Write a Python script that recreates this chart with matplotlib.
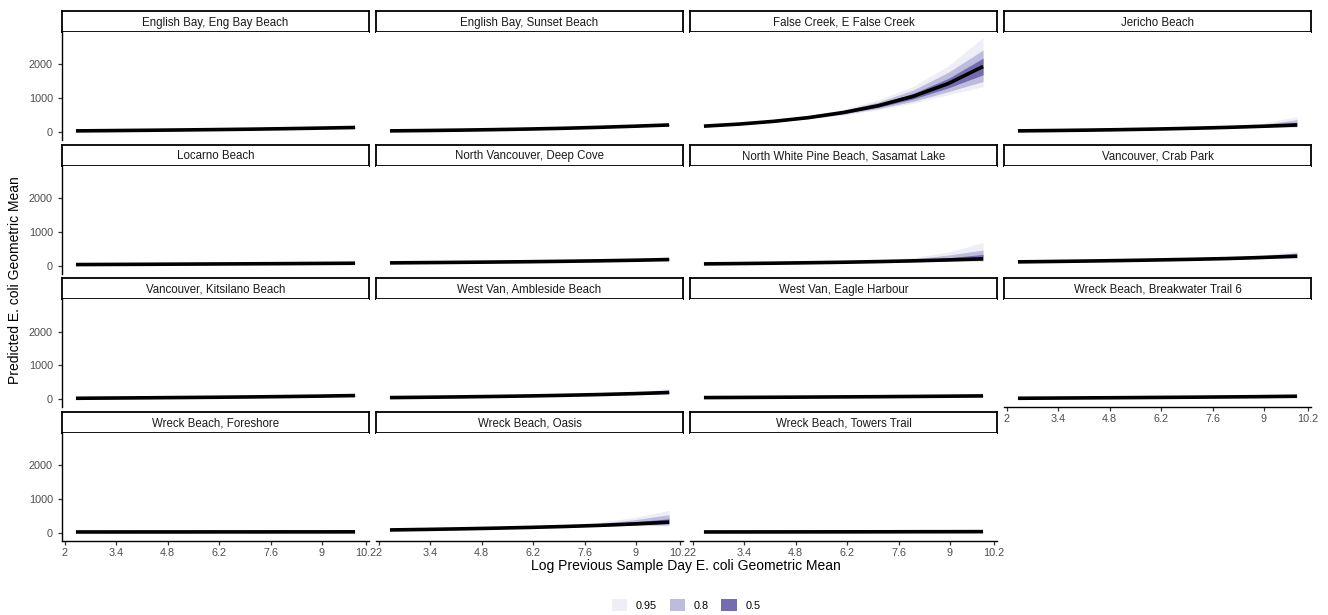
import numpy as np
import matplotlib
matplotlib.use("Agg")
import matplotlib.pyplot as plt
from matplotlib.patches import Patch

plt.rcParams['font.family'] = ['Liberation Sans', 'DejaVu Sans']

sites = ["English Bay, Eng Bay Beach", "English Bay, Sunset Beach", "False Creek, E False Creek",
         "Jericho Beach", "Locarno Beach", "North Vancouver, Deep Cove",
         "North White Pine Beach, Sasamat Lake", "Vancouver, Crab Park", "Vancouver, Kitsilano Beach",
         "West Van, Ambleside Beach", "West Van, Eagle Harbour", "Wreck Beach, Breakwater Trail 6",
         "Wreck Beach, Foreshore", "Wreck Beach, Oasis", "Wreck Beach, Towers Trail"]

# log previous-day geometric mean (x) where the predictions were read
x_prev = [2.3, 3.25, 4.2, 5.15, 6.1, 7.05, 8.0, 8.95, 9.9]

# predicted median, one row per site
median = [
    [30, 38, 47, 57, 68, 80, 95, 112, 130],
    [30, 40, 52, 67, 85, 107, 135, 168, 205],
    [170, 230, 312, 423, 574, 777, 1053, 1428, 1935],
    [30, 40, 52, 67, 85, 107, 133, 166, 205],
    [30, 34, 38, 43, 48, 53, 58, 64, 70],
    [80, 88, 96, 105, 115, 127, 141, 158, 178],
    [50, 60, 71, 84, 99, 118, 140, 167, 200],
    [110, 122, 135, 150, 167, 186, 208, 240, 280],
    [30, 37, 44, 52, 60, 70, 81, 94, 110],
    [50, 60, 71, 84, 99, 118, 140, 167, 200],
    [50, 55, 60, 65, 71, 77, 84, 92, 100],
    [30, 36, 42, 48, 55, 62, 70, 79, 90],
    [30, 30, 31, 31, 32, 32, 33, 33, 34],
    [90, 105, 122, 142, 165, 192, 225, 268, 320],
    [30, 31, 32, 33, 34, 35, 37, 38, 40],
]

hi95 = [
    [32, 40, 50, 61, 74, 88, 106, 128, 152],
    [32, 42, 55, 72, 93, 120, 155, 198, 250],
    [178, 245, 340, 475, 670, 950, 1350, 1950, 2790],
    [32, 43, 57, 76, 100, 132, 178, 255, 450],
    [32, 36, 40, 46, 52, 58, 65, 73, 82],
    [83, 91, 100, 110, 122, 137, 157, 190, 280],
    [53, 64, 77, 93, 117, 160, 240, 400, 680],
    [113, 126, 140, 157, 177, 203, 240, 310, 430],
    [32, 39, 47, 56, 65, 77, 90, 106, 126],
    [53, 63, 75, 89, 106, 128, 156, 200, 330],
    [52, 57, 63, 69, 76, 83, 91, 101, 112],
    [32, 38, 45, 52, 60, 68, 77, 88, 101],
    [32, 32, 33, 33, 34, 35, 36, 37, 38],
    [93, 109, 128, 150, 180, 230, 320, 460, 670],
    [32, 33, 34, 35, 36, 38, 40, 42, 45],
]
hi80 = [
    [31, 39, 49, 60, 72, 85, 102, 122, 144],
    [31, 41, 54, 70, 90, 115, 147, 186, 232],
    [175, 240, 330, 455, 635, 885, 1240, 1760, 2420],
    [31, 42, 55, 72, 94, 122, 160, 220, 360],
    [31, 35, 39, 45, 50, 56, 62, 69, 77],
    [82, 90, 99, 108, 120, 133, 150, 177, 240],
    [52, 63, 75, 90, 110, 143, 200, 310, 460],
    [112, 125, 138, 155, 174, 197, 228, 285, 380],
    [31, 38, 46, 55, 63, 74, 87, 101, 119],
    [52, 62, 74, 87, 103, 124, 150, 188, 280],
    [51, 56, 62, 68, 74, 81, 89, 98, 107],
    [31, 37, 44, 51, 58, 66, 75, 85, 97],
    [31, 31, 32, 33, 33, 34, 35, 35, 36],
    [92, 108, 126, 147, 174, 215, 285, 390, 540],
    [31, 32, 33, 34, 35, 37, 39, 40, 43],
]
hi50 = [
    [31, 39, 48, 58, 70, 83, 98, 117, 137],
    [31, 41, 53, 68, 87, 111, 141, 177, 218],
    [172, 235, 321, 439, 603, 828, 1140, 1580, 2180],
    [31, 41, 54, 70, 90, 115, 146, 190, 280],
    [31, 35, 39, 44, 49, 55, 60, 67, 73],
    [81, 89, 97, 107, 117, 130, 145, 167, 205],
    [51, 61, 73, 87, 104, 128, 165, 230, 330],
    [111, 123, 136, 152, 170, 191, 216, 260, 330],
    [31, 38, 45, 53, 62, 72, 84, 97, 114],
    [51, 61, 72, 86, 101, 121, 145, 177, 240],
    [51, 56, 61, 66, 72, 79, 86, 95, 104],
    [31, 37, 43, 49, 56, 64, 72, 82, 93],
    [31, 31, 32, 32, 33, 33, 34, 34, 35],
    [91, 106, 124, 145, 170, 203, 255, 330, 420],
    [31, 32, 33, 34, 35, 36, 38, 39, 41],
]
lo50 = [
    [29, 37, 46, 56, 66, 77, 92, 107, 123],
    [29, 39, 51, 66, 83, 103, 129, 160, 193],
    [168, 225, 303, 408, 547, 730, 975, 1300, 1690],
    [29, 39, 50, 64, 81, 100, 122, 150, 175],
    [29, 33, 37, 42, 47, 51, 56, 61, 67],
    [79, 87, 95, 103, 113, 124, 137, 151, 165],
    [49, 59, 69, 81, 95, 110, 128, 150, 165],
    [109, 121, 134, 148, 164, 181, 200, 225, 250],
    [29, 36, 43, 51, 58, 68, 78, 91, 106],
    [49, 59, 70, 82, 97, 115, 135, 157, 180],
    [49, 54, 59, 64, 70, 75, 82, 89, 96],
    [29, 35, 41, 47, 54, 60, 68, 76, 87],
    [29, 29, 30, 30, 31, 31, 32, 32, 33],
    [89, 104, 120, 139, 160, 182, 208, 243, 280],
    [29, 30, 31, 32, 33, 34, 36, 37, 39],
]
lo80 = [
    [29, 37, 45, 55, 64, 75, 88, 103, 117],
    [29, 39, 50, 64, 80, 100, 124, 153, 183],
    [165, 221, 295, 393, 522, 690, 905, 1190, 1490],
    [29, 38, 49, 62, 78, 96, 116, 140, 155],
    [29, 33, 37, 41, 46, 50, 54, 59, 64],
    [78, 86, 94, 102, 111, 122, 134, 146, 155],
    [48, 58, 68, 80, 93, 106, 120, 137, 145],
    [108, 120, 132, 146, 161, 177, 195, 215, 225],
    [29, 36, 42, 50, 57, 66, 76, 88, 102],
    [48, 58, 69, 81, 95, 112, 131, 150, 168],
    [49, 54, 58, 63, 68, 73, 80, 86, 93],
    [29, 35, 40, 46, 52, 58, 66, 74, 84],
    [29, 29, 30, 30, 31, 31, 31, 31, 32],
    [88, 103, 119, 137, 157, 177, 200, 228, 240],
    [29, 30, 31, 32, 33, 34, 35, 36, 38],
]
lo95 = [
    [28, 36, 44, 54, 63, 73, 85, 99, 112],
    [28, 38, 49, 63, 78, 97, 120, 147, 175],
    [162, 216, 287, 380, 500, 655, 850, 1100, 1340],
    [28, 37, 48, 61, 76, 93, 112, 133, 140],
    [28, 32, 36, 40, 45, 49, 53, 57, 62],
    [77, 85, 93, 101, 110, 120, 131, 142, 148],
    [47, 57, 67, 78, 91, 103, 115, 128, 130],
    [107, 119, 131, 145, 159, 174, 190, 207, 205],
    [28, 35, 41, 49, 56, 64, 74, 85, 98],
    [47, 57, 68, 80, 94, 110, 128, 145, 160],
    [48, 53, 57, 62, 67, 72, 78, 84, 89],
    [28, 34, 39, 45, 51, 57, 64, 71, 80],
    [28, 28, 29, 29, 30, 30, 30, 30, 31],
    [87, 102, 118, 136, 155, 174, 195, 218, 210],
    [28, 29, 30, 31, 32, 33, 34, 35, 36],
]

levels = ["0.95", "0.8", "0.5"]
fills = ["#efedf5", "#bcbddc", "#756bb1"]
xticks = [2, 3.4, 4.8, 6.2, 7.6, 9, 10.2]
xtick_labels = ["2", "3.4", "4.8", "6.2", "7.6", "9", "10.2"]

W, H = 1328, 615
fig = plt.figure(figsize=(W / 100, H / 100), dpi=100)

def box(px, py, pw, ph):
    return [px / W, 1 - (py + ph) / H, pw / W, ph / H]

x = np.array(x_prev)
ncol = 4
for i, site in enumerate(sites):
    r, c = divmod(i, ncol)
    left = 62 + c * 314
    top = 11 + r * 133.7
    strip = fig.add_axes(box(left, top, 307, 21))
    strip.set_xticks([]); strip.set_yticks([])
    for s in strip.spines.values():
        s.set_linewidth(1.3); s.set_color("black")
    strip.text(0.5, 0.45, site, ha="center", va="center", fontsize=8.3, color="#1a1a1a",
               transform=strip.transAxes)

    ax = fig.add_axes(box(left, top + 21, 307, 108))
    bands = [(lo95[i], hi95[i]), (lo80[i], hi80[i]), (lo50[i], hi50[i])]
    for (lo, hi), col in zip(bands, fills):
        ax.fill_between(x, lo, hi, color=col, lw=0)
    ax.plot(x, median[i], color="black", lw=2.6, solid_capstyle="butt")

    ax.set_xlim(1.92, 10.28)
    ax.set_ylim(-240, 2955)
    ax.spines["top"].set_visible(False)
    ax.spines["right"].set_visible(False)
    bottom_row = (r == 3) or (r == 2 and c == 3)
    ax.spines["bottom"].set_visible(bottom_row)
    ax.spines["left"].set_visible(c == 0)
    for s in ("left", "bottom"):
        ax.spines[s].set_linewidth(1.0)
    ax.tick_params(colors="#333333", labelcolor="#4d4d4d", labelsize=7.8, length=3, width=0.9)
    if c == 0:
        ax.set_yticks([0, 1000, 2000])
    else:
        ax.set_yticks([])
    if bottom_row:
        ax.set_xticks(xticks)
        ax.set_xticklabels(xtick_labels)
        ax.tick_params(axis="x", pad=2)
    else:
        ax.set_xticks([])
    ax.set_facecolor("white")

fig.text(686 / W, 1 - 566 / H, "Log Previous Sample Day E. coli Geometric Mean",
         ha="center", va="center", fontsize=10)
fig.text(15 / W, 1 - 280 / H, "Predicted E. coli Geometric Mean",
         ha="center", va="center", rotation=90, fontsize=10)

handles = [Patch(facecolor=f, edgecolor="none") for f in fills]
fig.legend(handles, levels, loc="center", bbox_to_anchor=(686 / W, 1 - 605 / H), ncol=3,
           frameon=False, fontsize=7.8, handlelength=1.4, handleheight=1.4,
           handletextpad=0.8, columnspacing=1.2)

fig.savefig("out.png", dpi=100)
